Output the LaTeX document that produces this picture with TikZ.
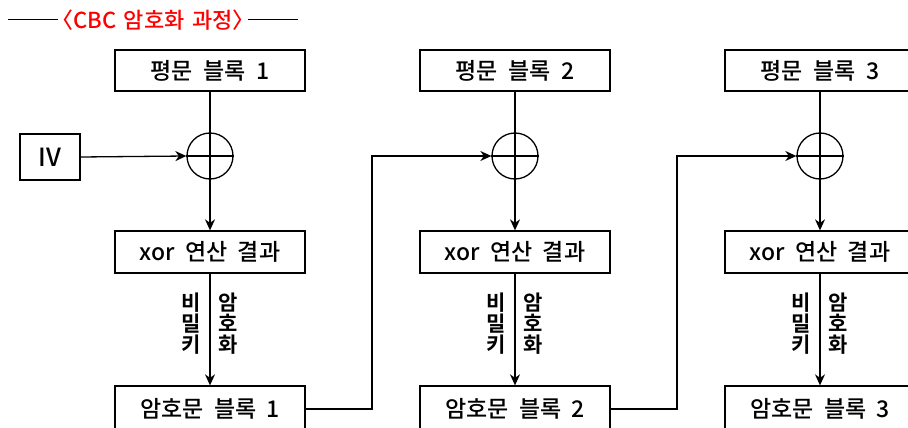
\documentclass[tikz,border=0pt]{standalone}
\usepackage{fontspec}
\setmainfont{Noto Sans CJK KR Medium}
\newfontfamily\krbold{Noto Sans CJK KR Bold}
\usetikzlibrary{arrows.meta}
\tikzset{
  box/.style={draw, line width=1.3pt, minimum width=190pt, minimum height=41pt, inner sep=0pt, font=\fontsize{23}{25}\selectfont},
  xorc/.style={draw, line width=1.3pt, circle, minimum size=46pt, inner sep=0pt},
  conn/.style={line width=1.3pt},
  arr/.style={line width=1.3pt, -{Stealth[length=11pt,width=10pt,inset=3.5pt]}},
  lbl/.style={font=\fontsize{21}{21}\selectfont\krbold, align=center, inner sep=0pt},
}
\newcommand{\wsp}{\hspace{0.45em}}
\begin{document}
\begin{tikzpicture}[x=1pt,y=-1pt]
\useasboundingbox (0,0) rectangle (908,428);
\clip (0,0) rectangle (908,428);
% title
\node[text=red, font=\fontsize{22}{24}\selectfont, inner sep=0pt] (title) at (153,20) {〈CBC\hspace{0.35em}암호화\hspace{0.35em}과정〉};
\coordinate (tl) at (8,20);
\coordinate (tr) at (298,20);
\draw[conn, line width=1pt] (tl) -- ([xshift=7pt]title.west);
\draw[conn, line width=1pt] ([xshift=-7pt]title.east) -- (tr);
% IV
\node[box, minimum width=60pt, minimum height=46pt, font=\fontsize{25}{27}\selectfont] (iv) at (50,157) {IV};
\foreach \i/\x in {1/210,2/515,3/820}{
  \node[box] (p\i) at (\x,70.5) {평문\wsp 블록\wsp \i};
  \node[xorc] (c\i) at (\x,156) {};
  \draw[conn] (c\i.north) -- (c\i.south);
  \draw[conn] (c\i.west) -- (c\i.east);
  \node[box, minimum height=42pt] (x\i) at (\x,252) {xor\wsp 연산\wsp 결과};
  \node[box, minimum height=46pt] (e\i) at (\x,409) {암호문\wsp 블록\wsp \i};
  \draw[conn] (p\i.south) -- (c\i.north);
  \draw[arr] (c\i.south) -- (x\i.north);
  \draw[arr] (x\i.south) -- (e\i.north);
  \node[lbl] (k\i) at (\x-19,324) {비\\밀\\키};
  \node[lbl] (a\i) at (\x+18,324) {암\\호\\화};
}
\draw[arr] (iv.east) -- (c1.west);
\draw[arr] (e1.east) -- (372,409) |- (c2.west);
\draw[arr] (e2.east) -- (677,409) |- (c3.west);
\end{tikzpicture}
\end{document}
